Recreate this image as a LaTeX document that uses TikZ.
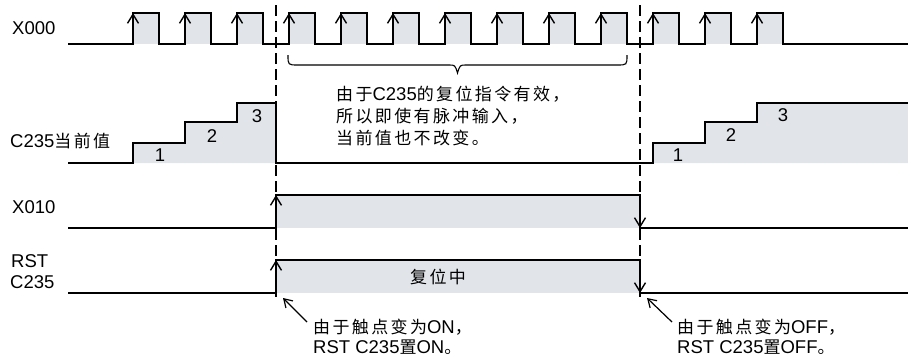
\documentclass[tikz,border=0pt]{standalone}
\usepackage{fontspec}
\setmainfont{Liberation Sans}
\newfontfamily\cjk[LetterSpace=14]{Noto Sans CJK SC}
\newcommand\zh[1]{{\cjk\fontsize{17}{22}\selectfont #1}}
\usetikzlibrary{arrows.meta}
\definecolor{pulsefill}{RGB}{225,228,233}
\begin{document}
\begin{tikzpicture}[x=1pt,y=-1pt,
  sig/.style={line width=1.8pt},
  area/.style={fill=pulsefill,draw=none},
  edgearrow/.style={line width=1.8pt,-{Straight Barb[length=9pt,width=11pt,line width=1.4pt]}},
  guide/.style={line width=1.8pt,dash pattern=on 11pt off 5pt},
  note/.style={line width=1.2pt,-{Straight Barb[length=8pt,width=10pt,line width=1.2pt]}},
  txt/.style={font=\fontsize{18.5}{22}\selectfont,inner sep=0pt,anchor=base west},
  num/.style={font=\fontsize{18.5}{22}\selectfont,inner sep=0pt,anchor=base}]
\useasboundingbox (0,0) rectangle (908,357);

% ---------- fills ----------
\foreach \r in {133,185,...,757} \path[area] (\r,13) rectangle (\r+26,44);
\path[area] (133,163) -- (133,143) -- (185,143) -- (185,122) -- (237,122) -- (237,103) -- (276,103) -- (276,163) -- cycle;
\path[area] (653,163) -- (653,143) -- (705,143) -- (705,122) -- (757,122) -- (757,103) -- (908,103) -- (908,163) -- cycle;
\path[area] (276,195) rectangle (640,228);
\path[area] (276,260) rectangle (640,293);

% ---------- dashed guides ----------
\draw[guide] (276,5) -- (276,297);
\draw[guide] (640,5) -- (640,297);

% ---------- X000 ----------
\draw[sig] (68,44) \foreach \r in {133,185,...,757}{ -- (\r,44) -- (\r,13) -- (\r+26,13) -- (\r+26,44)} -- (908,44);
\foreach \r in {133,185,...,757} \draw[edgearrow] (\r,44) -- (\r,13);

% ---------- C235 current value ----------
\draw[sig] (68,163) -- (133,163) -- (133,143) -- (185,143) -- (185,122) -- (237,122) -- (237,103) -- (276,103) -- (276,163) -- (653,163) -- (653,143) -- (705,143) -- (705,122) -- (757,122) -- (757,103) -- (908,103);

% ---------- X010 ----------
\draw[sig] (68,228) -- (276,228) -- (276,195) -- (640,195) -- (640,228) -- (908,228);
\draw[edgearrow] (276,228) -- (276,195);
\draw[edgearrow] (640,195) -- (640,228);

% ---------- RST C235 ----------
\draw[sig] (68,293) -- (276,293) -- (276,260) -- (640,260) -- (640,293) -- (908,293);
\draw[edgearrow] (276,293) -- (276,260);
\draw[edgearrow] (640,260) -- (640,293);

% ---------- brace ----------
\draw[line width=1.1pt] (288,55) .. controls (288,65) and (288,65) .. (298,65) -- (449,65)
  .. controls (455,65) .. (457.5,73) .. controls (460,65) .. (466,65) -- (617,65)
  .. controls (627,65) and (627,65) .. (627,55);

% ---------- labels ----------
\node[txt] (lx000) at (12,34) {X000};
\node[txt] (lc235) at (10,147) {C235\zh{当前值}};
\node[txt] (lx010) at (12,213) {X010};
\node[txt] (lrst) at (11,267) {RST};
\node[txt] (lrstc) at (10,288) {C235};

\node[num] (n1a) at (160,161) {1};
\node[num] (n2a) at (212,142) {2};
\node[num] (n3a) at (257,122) {3};
\node[num] (n1b) at (678,161) {1};
\node[num] (n2b) at (731,141) {2};
\node[num] (n3b) at (783,121) {3};

\node[txt] (note1) at (336,100) {\zh{由于}C235\zh{的复位指令有效，}};
\node[txt] (note2) at (336,122) {\zh{所以即使有脉冲输入，}};
\node[txt] (note3) at (336,144) {\zh{当前值也不改变。}};

\node[txt] (resetting) at (410,283) {\zh{复位中}};

\node[txt] (onA) at (313,333) {\zh{由于触点变为}ON\zh{，}};
\node[txt] (onB) at (313,353) {RST C235\zh{置}ON\zh{。}};
\node[txt] (offA) at (677,333) {\zh{由于触点变为}OFF\zh{，}};
\node[txt] (offB) at (677,353) {RST C235\zh{置}OFF\zh{。}};

\coordinate (onTail) at (307,322);
\coordinate (onTip) at (283,298);
\coordinate (offTail) at (672,322);
\coordinate (offTip) at (647,298);
\draw[note] (onTail) -- (onTip);
\draw[note] (offTail) -- (offTip);
\end{tikzpicture}
\end{document}
